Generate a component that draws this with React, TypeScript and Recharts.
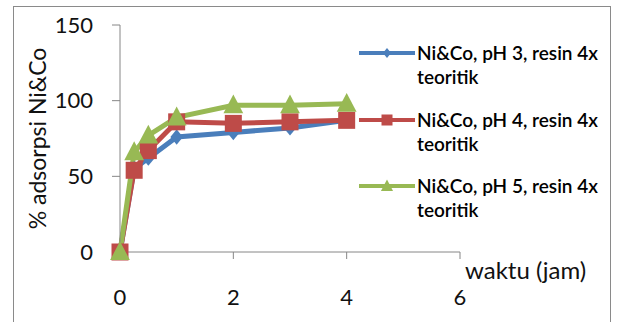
import React from "react";
import { LineChart, Line, XAxis, YAxis, Legend } from "recharts";

// sampling times (jam) and adsorption (%) per pH
const times = [0, 0.25, 0.5, 1, 2, 3, 4];
const ph3 = [0, 55, 62, 76, 79, 82, 87];
const ph4 = [0, 54, 67, 86, 85, 86, 87];
const ph5 = [0, 66, 77, 89, 97, 97, 98];

const seriesNames = [
  "Ni&Co, pH 3, resin 4x teoritik",
  "Ni&Co, pH 4, resin 4x teoritik",
  "Ni&Co, pH 5, resin 4x teoritik",
];
const xTicks = [0, 2, 4, 6];
const yTicks = [0, 50, 100, 150];

const data = times.map((t, i) => ({ t, ph3: ph3[i], ph4: ph4[i], ph5: ph5[i] }));

const FONT = "Lato, 'Liberation Sans', sans-serif";
const AXIS = "#868686";

const series = [
  { key: "ph3", color: "#4A7EBB", shape: "diamond" },
  { key: "ph4", color: "#BE4B48", shape: "square" },
  { key: "ph5", color: "#98B954", shape: "triangle" },
];

function Marker({ shape, cx, cy, color, s }: any) {
  if (cx == null || cy == null) return null;
  if (shape === "diamond") {
    return (
      <polygon
        points={`${cx},${cy - s * 0.55} ${cx + s * 0.45},${cy} ${cx},${cy + s * 0.55} ${cx - s * 0.45},${cy}`}
        fill={color}
      />
    );
  }
  if (shape === "square") {
    return <rect x={cx - s / 2} y={cy - s / 2} width={s} height={s} fill={color} />;
  }
  return (
    <polygon
      points={`${cx},${cy - s * 0.6} ${cx + s * 0.55},${cy + s * 0.45} ${cx - s * 0.55},${cy + s * 0.45}`}
      fill={color}
    />
  );
}

const dotSize: Record<string, number> = { diamond: 14, square: 17, triangle: 18 };
const legendSize: Record<string, number> = { diamond: 9, square: 11, triangle: 11 };

function LegendBox({ payload }: any) {
  return (
    <div style={{ fontFamily: FONT }}>
      {(payload || []).map((p: any, i: number) => {
        const s = series[i];
        return (
          <div key={p.value} style={{ display: "flex", alignItems: "flex-start", height: 66.7 }}>
            <svg width={58} height={24} style={{ flex: "none" }}>
              <line x1={0} x2={56} y1={12} y2={12} stroke={s.color} strokeWidth={4} />
              <Marker shape={s.shape} cx={28} cy={12} color={s.color} s={legendSize[s.shape]} />
            </svg>
            <div style={{ width: 192, fontSize: 19, lineHeight: "24px", color: "#000", fontWeight: 600 }}>
              {p.value}
            </div>
          </div>
        );
      })}
    </div>
  );
}

export default function App() {
  return (
    <div style={{ position: "absolute", left: 0, top: 0, width: 617, height: 322, background: "#fff", overflow: "hidden" }}>
      <div
        style={{
          position: "absolute",
          left: 13,
          top: 6,
          width: 596,
          height: 340,
          border: "1.5px solid #8a8a8a",
        }}
      />
      <LineChart
        width={617}
        height={322}
        data={data}
        margin={{ top: 25, right: 157, left: 0, bottom: 0 }}
        style={{ position: "absolute", left: 0, top: 0 }}
      >
        <XAxis
          dataKey="t"
          type="number"
          domain={[0, 6]}
          ticks={xTicks}
          height={70}
          stroke={AXIS}
          tickSize={7}
          tickMargin={30}
          tick={{ fill: "#111", fontSize: 22, fontFamily: FONT }}
          label={(props: any) => {
            const vb = props.viewBox;
            return (
              <text x={vb.x + vb.width + 5} y={vb.y + 27} fill="#111" fontSize={24} fontFamily={FONT}>
                waktu (jam)
              </text>
            );
          }}
        />
        <YAxis
          type="number"
          domain={[0, 150]}
          ticks={yTicks}
          width={120}
          stroke={AXIS}
          tickSize={8}
          tickMargin={19}
          tick={{ fill: "#111", fontSize: 22, fontFamily: FONT }}
          label={(props: any) => {
            const vb = props.viewBox;
            const cx = 37;
            const cy = vb.y + vb.height / 2;
            return (
              <text
                x={cx}
                y={cy}
                transform={`rotate(-90 ${cx} ${cy})`}
                textAnchor="middle"
                dominantBaseline="central"
                fill="#111"
                fontSize={23}
                fontFamily={FONT}
              >
                % adsorpsi Ni&amp;Co
              </text>
            );
          }}
        />
        {series.map((s, i) => (
          <Line
            key={s.key}
            dataKey={s.key}
            name={seriesNames[i]}
            stroke={s.color}
            strokeWidth={5}
            isAnimationActive={false}
            dot={(p: any) => (
              <Marker key={`${s.key}-${p.index}`} shape={s.shape} cx={p.cx} cy={p.cy} color={s.color} s={dotSize[s.shape]} />
            )}
            activeDot={false}
          />
        ))}
        <Legend
          layout="vertical"
          align="center"
          verticalAlign="middle"
          content={<LegendBox />}
          wrapperStyle={{ left: 359, top: 41, width: 252 }}
        />
      </LineChart>
    </div>
  );
}
